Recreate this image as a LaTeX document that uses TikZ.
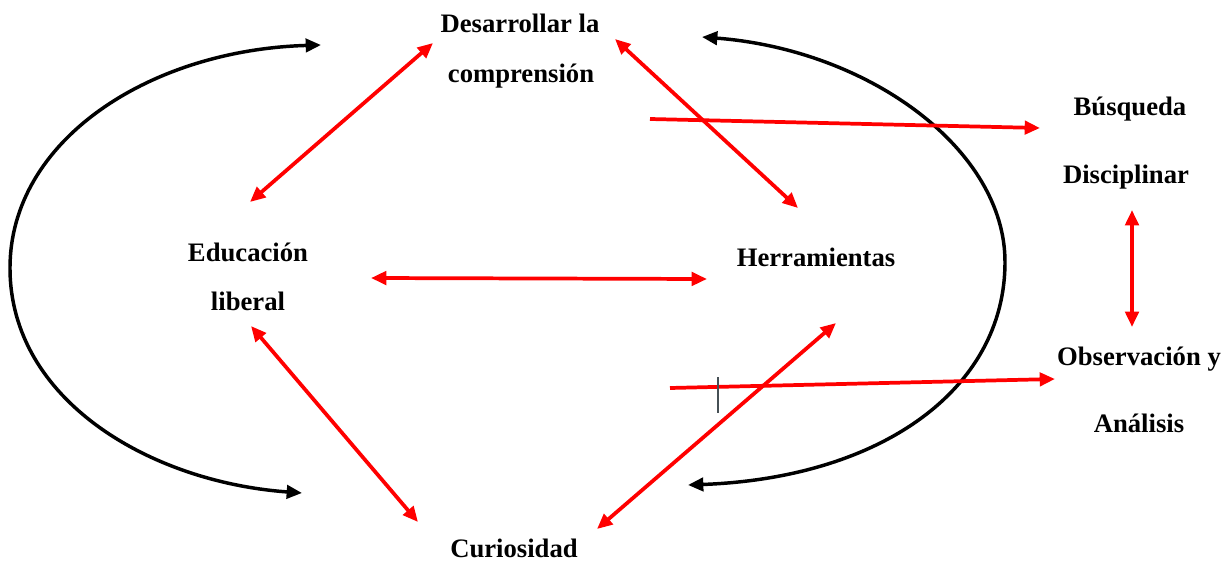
\documentclass[tikz,border=0pt]{standalone}
\usepackage{fontspec}
\setmainfont{Liberation Serif}
\usetikzlibrary{arrows.meta}
\definecolor{redline}{RGB}{255,0,0}
\definecolor{cursorgray}{RGB}{70,80,85}
\tikzset{
  lbl/.style={anchor=base, inner sep=0pt, font=\fontsize{20}{24}\selectfont\bfseries},
  redarrow/.style={draw=redline, line width=2.8pt, {Triangle[length=11.5pt,width=10pt]}-{Triangle[length=11.5pt,width=10pt]}},
  redone/.style={draw=redline, line width=2.8pt, -{Triangle[length=11.5pt,width=10pt]}},
  blackarc/.style={draw=black, line width=2.6pt, {Triangle[length=11.5pt,width=10pt]}-{Triangle[length=11.5pt,width=10pt]}},
}
\begin{document}
\begin{tikzpicture}[x=0.75pt,y=-0.75pt]
\useasboundingbox (0,0) rectangle (1232,564);
% labels
\node[lbl] (des1) at (520,32) {Desarrollar la};
\node[lbl] (des2) at (521,82) {comprensión};
\node[lbl] (edu1) at (248,261) {Educación};
\node[lbl] (edu2) at (248,310) {liberal};
\node[lbl] (her) at (816,266) {Herramientas};
\node[lbl] (cur) at (514,557) {Curiosidad};
\node[lbl] (bus1) at (1130,115) {Búsqueda};
\node[lbl] (bus2) at (1126,183) {Disciplinar};
\node[lbl] (obs1) at (1139,365) {Observación y};
\node[lbl] (obs2) at (1139,432) {Análisis};
% arrow end points
\coordinate (a1s) at (250,202); \coordinate (a1e) at (433,43);
\coordinate (a2s) at (615,39);  \coordinate (a2e) at (798,208);
\coordinate (a3s) at (371,278); \coordinate (a3e) at (707,279);
\coordinate (a4s) at (251,326); \coordinate (a4e) at (418,522);
\coordinate (a5s) at (597,529); \coordinate (a5e) at (836,323);
\coordinate (a6s) at (1132,210); \coordinate (a6e) at (1132,327);
\coordinate (a7s) at (650,119); \coordinate (a7e) at (1040,128);
\coordinate (a8s) at (670,388); \coordinate (a8e) at (1055,379);
\coordinate (lb) at (302,493); \coordinate (lm) at (10,268); \coordinate (lt) at (321,45);
\coordinate (rt) at (702,37); \coordinate (rm) at (1005,262); \coordinate (rb) at (688,485);
\coordinate (cur1) at (718,377); \coordinate (cur2) at (718,413);
% black arcs
\draw[blackarc] (lb) .. controls (150,482) and (10,400) .. (lm) .. controls (10,140) and (150,50) .. (lt);
\draw[blackarc] (rt) .. controls (870,50) and (1005,150) .. (rm) .. controls (1005,390) and (880,478) .. (rb);
% red arrows
\draw[redarrow] (a1s) -- (a1e);
\draw[redarrow] (a2s) -- (a2e);
\draw[redarrow] (a3s) -- (a3e);
\draw[redarrow] (a4s) -- (a4e);
\draw[redarrow] (a5s) -- (a5e);
\draw[redarrow] (a6s) -- (a6e);
\draw[redone] (a7s) -- (a7e);
\draw[redone] (a8s) -- (a8e);
% text cursor mark
\draw[cursorgray, line width=0.8pt] (cur1) -- (cur2);
\end{tikzpicture}
\end{document}
